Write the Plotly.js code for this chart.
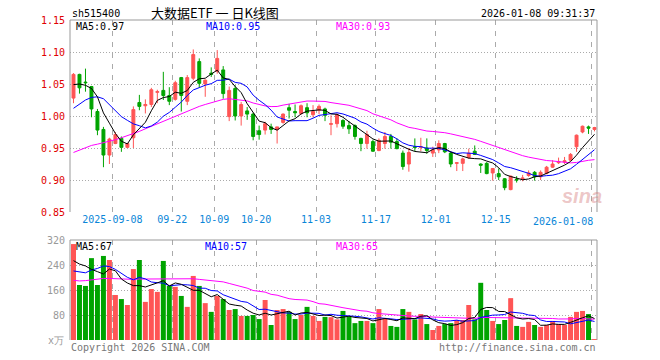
<!DOCTYPE html>
<html><head><meta charset="utf-8">
<script src="https://cdn.plot.ly/plotly-3.0.1.min.js"></script>
<style>html,body{margin:0;padding:0;background:#fff}#chart{width:660px;height:360px}</style>
</head><body><div id="chart"></div>
<script>
// ---- data ----
const dates = ["2025-08-28","2025-08-29","2025-09-01","2025-09-02","2025-09-03","2025-09-04","2025-09-05","2025-09-08","2025-09-09","2025-09-10",
"2025-09-11","2025-09-12","2025-09-15","2025-09-16","2025-09-17","2025-09-18","2025-09-19","2025-09-22","2025-09-23","2025-09-24",
"2025-09-25","2025-09-26","2025-09-29","2025-09-30","2025-10-09","2025-10-10","2025-10-13","2025-10-14","2025-10-15","2025-10-16",
"2025-10-17","2025-10-20","2025-10-21","2025-10-22","2025-10-23","2025-10-24","2025-10-27","2025-10-28","2025-10-29","2025-10-30",
"2025-10-31","2025-11-03","2025-11-04","2025-11-05","2025-11-06","2025-11-07","2025-11-10","2025-11-11","2025-11-12","2025-11-13",
"2025-11-14","2025-11-17","2025-11-18","2025-11-19","2025-11-20","2025-11-21","2025-11-24","2025-11-25","2025-11-26","2025-11-27",
"2025-11-28","2025-12-01","2025-12-02","2025-12-03","2025-12-04","2025-12-05","2025-12-08","2025-12-09","2025-12-10","2025-12-11",
"2025-12-12","2025-12-15","2025-12-16","2025-12-17","2025-12-18","2025-12-19","2025-12-22","2025-12-23","2025-12-24","2025-12-25",
"2025-12-26","2025-12-29","2025-12-30","2025-12-31","2026-01-05","2026-01-06","2026-01-07","2026-01-08"];

const open = [1.028,1.065,1.053,1.046,1.007,0.979,0.939,0.957,0.965,0.951,
0.966,1.021,1.016,1.018,1.037,1.040,1.032,1.026,1.060,1.023,
1.059,1.085,1.050,1.067,1.070,1.072,0.999,1.043,1.000,1.008,
1.003,0.977,0.978,0.983,0.979,0.990,1.013,1.007,1.004,1.013,
1.002,1.009,1.011,0.987,0.988,0.993,0.985,0.985,0.965,0.957,
0.960,0.946,0.957,0.968,0.960,0.942,0.925,0.952,0.951,0.950,
0.942,0.947,0.957,0.942,0.926,0.926,0.935,0.945,0.925,0.926,
0.911,0.910,0.902,0.885,0.901,0.902,0.907,0.912,0.905,0.910,
0.920,0.927,0.928,0.931,0.952,0.975,0.983,0.979];

const high = [1.067,1.066,1.074,1.047,1.011,0.983,0.966,0.975,0.968,0.958,
1.015,1.033,1.026,1.044,1.041,1.069,1.045,1.055,1.061,1.064,
1.104,1.090,1.057,1.076,1.103,1.078,1.046,1.048,1.022,1.014,
1.005,0.985,0.991,0.988,0.983,1.004,1.019,1.018,1.018,1.020,
1.017,1.018,1.013,1.001,1.004,0.995,0.992,0.987,0.966,0.977,
0.963,0.965,0.975,0.972,0.965,0.946,0.950,0.965,0.966,0.965,
0.952,0.962,0.958,0.944,0.928,0.935,0.949,0.954,0.926,0.928,
0.918,0.918,0.903,0.907,0.906,0.908,0.915,0.914,0.915,0.922,
0.931,0.935,0.936,0.942,0.971,0.985,0.985,0.983];

const low = [1.020,1.035,1.038,0.998,0.970,0.920,0.925,0.956,0.944,0.950,
0.950,1.009,1.004,1.014,1.020,1.025,1.017,1.024,1.007,1.017,
1.056,1.044,1.030,1.061,1.066,1.027,0.992,0.993,0.985,0.994,
0.962,0.963,0.971,0.972,0.957,0.988,0.996,0.998,1.002,0.998,
0.998,1.003,0.992,0.970,0.982,0.980,0.972,0.963,0.945,0.949,
0.944,0.945,0.949,0.949,0.948,0.916,0.913,0.945,0.945,0.941,
0.936,0.942,0.942,0.920,0.914,0.914,0.933,0.939,0.911,0.909,
0.899,0.900,0.884,0.884,0.896,0.898,0.905,0.899,0.900,0.909,
0.919,0.925,0.925,0.930,0.944,0.973,0.972,0.976];

const close = [1.065,1.044,1.052,1.011,0.978,0.939,0.964,0.971,0.951,0.957,
1.010,1.015,1.018,1.041,1.038,1.032,1.023,1.052,1.032,1.060,
1.096,1.051,1.056,1.065,1.090,1.035,1.040,1.000,1.018,1.003,
0.968,0.971,0.988,0.979,0.983,1.003,1.009,1.005,1.016,1.005,
1.007,1.015,1.001,0.988,1.002,0.984,0.980,0.968,0.957,0.971,
0.945,0.962,0.968,0.959,0.949,0.921,0.943,0.951,0.952,0.946,
0.947,0.957,0.944,0.925,0.927,0.933,0.942,0.940,0.923,0.910,
0.918,0.905,0.888,0.906,0.900,0.903,0.911,0.905,0.912,0.920,
0.925,0.929,0.930,0.940,0.970,0.984,0.981,0.982];

// volume, 万
const volume = [307,176,173,262,176,269,256,144,131,112,
227,256,122,163,154,253,173,170,141,106,
205,173,118,90,141,131,96,99,77,77,
80,67,128,48,96,99,90,67,80,106,
77,61,74,73,66,93,75,54,61,61,
54,99,69,45,42,99,90,66,83,51,
32,45,51,54,64,64,112,66,183,96,
61,51,64,134,45,42,58,48,42,48,
61,51,48,74,90,93,83,3];

// moving-average values for days before enough history exists
const ma5Early  = [1.049,1.050,1.048,1.043];
const ma10Early = [1.012,1.019,1.025,1.029,1.030,1.027,1.018,1.008,0.999];
const ma30Early = [0.943,0.947,0.951,0.954,0.956,0.958,0.961,0.963,0.966,0.969,
0.972,0.976,0.980,0.984,0.988,0.992,0.996,0.999,1.003,1.008,
1.012,1.015,1.018,1.021,1.024,1.026,1.027,1.026,1.025];
const vma5Early  = [254,243,237,226];
const vma10Early = [221,219,215,224,229,237,235,226,213];
const vma30Early = [191,189,190,193,195,197,197,196,194,193,
194,195,195,196,197,197,197,197,197,197,
196,194,192,190,188,186,181,176,172];

const tickDates  = ["2025-09-08","2025-09-22","2025-10-09","2025-10-20","2025-11-03","2025-11-17","2025-12-01","2025-12-15","2026-01-08"];
const tickLabels = ["2025-09-08","09-22","10-09","10-20","11-03","11-17","12-01","12-15",""];
const lastTickLabel = "2026-01-08";
const priceTicks = [0.85,0.90,0.95,1.00,1.05,1.10,1.15];
const volTicks = [80,160,240,320];

// ---- derived ----
const idx = dates.map((d,i)=>i);
function movingAvg(src,n,early){
  return src.map((v,i)=> i<n-1 ? early[i] : src.slice(i-n+1,i+1).reduce((a,b)=>a+b,0)/n);
}
const up = close.map((c,i)=> c>=open[i]);
const tickPos = tickDates.map(d=>dates.indexOf(d)-0.5);

const RED='#ff5555', GREEN='#00a400';
const MONO='DejaVu Sans Mono, Liberation Mono, monospace';
const CJK='Noto Sans CJK SC, sans-serif';

const traces = [
  {type:'candlestick', x:idx, open:open, high:high, low:low, close:close, xaxis:'x', yaxis:'y',
   increasing:{line:{color:RED,width:1},fillcolor:RED},
   decreasing:{line:{color:GREEN,width:1},fillcolor:GREEN},
   whiskerwidth:0, hoverinfo:'skip'},
  {type:'scatter',mode:'lines',x:idx,y:movingAvg(close,30,ma30Early),line:{color:'#ff00ff',width:1},xaxis:'x',yaxis:'y',hoverinfo:'skip'},
  {type:'scatter',mode:'lines',x:idx,y:movingAvg(close,10,ma10Early),line:{color:'#0000ff',width:1},xaxis:'x',yaxis:'y',hoverinfo:'skip'},
  {type:'scatter',mode:'lines',x:idx,y:movingAvg(close,5,ma5Early),line:{color:'#000000',width:1},xaxis:'x',yaxis:'y',hoverinfo:'skip'},
  {type:'bar',x:idx,y:volume,xaxis:'x2',yaxis:'y2',width:0.83,
   marker:{color:up.map(u=>u?RED:GREEN),line:{width:0}},hoverinfo:'skip'},
  {type:'scatter',mode:'lines',x:idx,y:movingAvg(volume,30,vma30Early),line:{color:'#ff00ff',width:1},xaxis:'x2',yaxis:'y2',hoverinfo:'skip'},
  {type:'scatter',mode:'lines',x:idx,y:movingAvg(volume,10,vma10Early),line:{color:'#0000ff',width:1},xaxis:'x2',yaxis:'y2',hoverinfo:'skip'},
  {type:'scatter',mode:'lines',x:idx,y:movingAvg(volume,5,vma5Early),line:{color:'#000000',width:1},xaxis:'x2',yaxis:'y2',hoverinfo:'skip'}
];

const GRID='#aaaaaa', BORDER='#999999';
const xr=[-0.5833, 87.4167];
const mainBottom=0.4, volTop=0.3125;

const lineShape=(x0,y0,x1,y1)=>({type:'line',xref:'paper',yref:'paper',x0:x0,y0:y0,x1:x1,y1:y1,line:{color:BORDER,width:1}});
const ann=(text,x,y,xa,color,size,family,extra)=>Object.assign({text:text,x:x,y:y,xref:'paper',yref:'paper',xanchor:xa,yanchor:'middle',showarrow:false,
  font:{family:family||MONO,size:size||10,color:color||'#000'}},extra||{});
const px=(x)=>(x-70)/527, py=(y)=>(340-y)/320;

const layout = {
  width:660,height:360,margin:{l:70,r:63,t:20,b:20},
  paper_bgcolor:'#fff',plot_bgcolor:'#fff',showlegend:false,
  xaxis:{domain:[0,1],anchor:'y',range:xr,tickmode:'array',tickvals:tickPos,ticktext:tickLabels,
    showgrid:true,gridcolor:GRID,griddash:'5px,6px',gridwidth:1,zeroline:false,showline:false,ticks:'',
    tickfont:{family:MONO,size:10,color:'#0a86d8'},rangeslider:{visible:false},fixedrange:true},
  xaxis2:{domain:[0,1],anchor:'y2',matches:'x',range:xr,tickmode:'array',tickvals:tickPos,showticklabels:false,
    showgrid:true,gridcolor:GRID,griddash:'5px,6px',gridwidth:1,zeroline:false,showline:false,ticks:'',fixedrange:true},
  yaxis:{domain:[mainBottom,1],anchor:'x',range:[0.85,1.15],tickmode:'array',tickvals:priceTicks,tickformat:'.2f',
    showgrid:true,gridcolor:GRID,griddash:'1px,2px',zeroline:false,showline:false,ticks:'',ticklabelstandoff:4,
    tickfont:{family:MONO,size:10,color:'#e00000'},fixedrange:true},
  yaxis2:{domain:[0,volTop],anchor:'x2',range:[0,320],tickmode:'array',tickvals:volTicks,
    showgrid:true,gridcolor:GRID,griddash:'1px,2px',zeroline:false,showline:false,ticks:'',ticklabelstandoff:4,
    tickfont:{family:MONO,size:10,color:'#999999'},fixedrange:true},
  shapes:[
    lineShape(0,1,1,1), lineShape(0,mainBottom,0,1), lineShape(1,mainBottom,1,1),
    lineShape(0,volTop,1,volTop), lineShape(0,0,0,volTop), lineShape(1,0,1,volTop)
  ],
  annotations:[
    ann('sh515400',px(70),py(13.5),'left','#000',10),
    ann('大数据ETF 一 日K线图',px(215),py(13),'center','#000',13,CJK),
    ann('2026-01-08 09:31:37',px(597),py(13.5),'right','#000',10),
    ann('MA5:0.97',px(74),py(26),'left','#000',10),
    ann('MA10:0.95',px(204),py(26),'left','#0000ff',10),
    ann('MA30:0.93',px(334),py(26),'left','#ff00ff',10),
    ann('MA5:67',px(74),py(246.5),'left','#000',10),
    ann('MA10:57',px(203),py(246.5),'left','#0000ff',10),
    ann('MA30:65',px(334),py(246.5),'left','#ff00ff',10),
    ann('x万',px(66),py(340),'right','#999999',10),
    ann('Copyright 2026 SINA.COM',px(69),py(347),'left','#777777',10),
    ann('http://finance.sina.com.cn',px(598),py(347),'right','#777777',10),
    ann(lastTickLabel,px(595),py(221),'right','#0a86d8',10),
    ann('<b><i>sina</i></b>',px(582),py(196),'center','rgba(215,130,130,0.45)',20,'Liberation Sans, sans-serif')
  ]
};

Plotly.newPlot('chart',traces,layout,{staticPlot:true,displayModeBar:false});
</script></body></html>
